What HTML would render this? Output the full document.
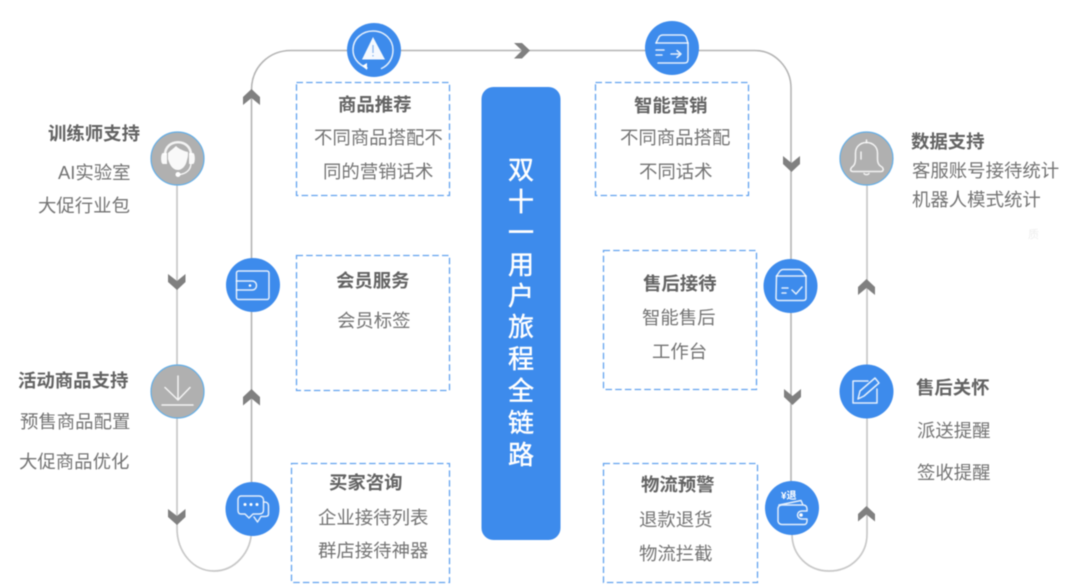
<!DOCTYPE html>
<html lang="zh">
<head>
<meta charset="utf-8">
<style>
html,body{margin:0;padding:0;background:#fff;width:1080px;height:588px;overflow:hidden}
svg{display:block;filter:blur(.45px)}
text{font-family:"Liberation Sans","Noto Sans CJK SC",sans-serif;font-size:18.4px;fill:#747474}
.t{font-weight:700;fill:#636363}
.c{font-size:26px;fill:#fff;text-anchor:middle;stroke:#fff;stroke-width:.45}
.line{fill:none;stroke:#c8c8c8;stroke-width:1.7}
.dark{fill:none;stroke:#b4b4b4;stroke-width:1.6}
.box{fill:#fff;stroke:#62a2ef;stroke-width:1.3;stroke-dasharray:6.500 3.200}
.blue{fill:#3d8bec}
.gray{fill:#b0b0b0;stroke:#62aee8;stroke-width:1.2}
.ic{fill:none;stroke:#fff;stroke-width:1.5;stroke-linecap:round;stroke-linejoin:round;opacity:.85}
.ar{fill:#808080}
</style>
</head>
<body>
<svg width="1080" height="588" viewBox="0 0 1080 588" xmlns="http://www.w3.org/2000/svg">
<!-- connectors -->
<path class="line" d="M177 185V528C177 552 193 571 214 571C235 571 251.500 552 251.500 530"/>
<path class="dark" d="M251.500 482V90C251.500 67 269 50.500 291 50.500H755C775 50.500 791 68 791 88V260"/>
<path class="dark" d="M791 312V482"/>
<path class="line" d="M792 534C792 555 808 571 829 571C851 571 867 555 867 534V185"/>

<!-- chevrons -->
<polygon class="ar" points="168,274 177,281 185.500,274 185.500,282 177,290 168,282"/>
<polygon class="ar" points="168,509 177,516 185.500,509 185.500,517 177,525 168,517"/>
<polygon class="ar" points="243,105 251.500,98 260,105 260,97 251.500,89 243,97"/>
<polygon class="ar" points="243,405.500 251.500,398.500 260,405.500 260,397 251.500,389 243,397"/>
<polygon class="ar" points="514,43 522,50.500 514,58.500 522,58.500 530,50.500 522,43"/>
<polygon class="ar" points="783,156 791.500,163 800,156 800,164 791.500,172 783,164"/>
<polygon class="ar" points="784,389 792.500,396 801,389 801,397 792.500,405 784,397"/>
<polygon class="ar" points="858,295 866.500,288 875,295 875,287 866.500,279 858,287"/>
<polygon class="ar" points="858,521.500 866.500,514.500 875,521.500 875,514 866.500,506 858,514"/>

<!-- dashed boxes -->
<rect class="box" x="296.500" y="82.500" width="153" height="113"/>
<rect class="box" x="296.500" y="255.500" width="153" height="135"/>
<rect class="box" x="291.500" y="463.500" width="158" height="119"/>
<rect class="box" x="595.500" y="82.500" width="153" height="113"/>
<rect class="box" x="603.500" y="250.500" width="153" height="139"/>
<rect class="box" x="603.500" y="463.500" width="154" height="119"/>

<!-- centre bar -->
<rect class="blue" x="481.500" y="87" width="79" height="453" rx="12"/>
<text class="c" x="521" y="179">双</text>
<text class="c" x="521" y="211">十</text>
<text class="c" x="521" y="242">一</text>
<text class="c" x="521" y="274">用</text>
<text class="c" x="521" y="305">户</text>
<text class="c" x="521" y="336">旅</text>
<text class="c" x="521" y="368">程</text>
<text class="c" x="521" y="400">全</text>
<text class="c" x="521" y="432">链</text>
<text class="c" x="521" y="464">路</text>

<!-- headset -->
<circle class="gray" cx="177.500" cy="158.500" r="26.500"/>
<path d="M165 155C165 138 191 138 191 155" fill="none" stroke="#fff" stroke-width="2.600" opacity=".85"/>
<path d="M191 163C191 170 186 173.500 180 174.500" fill="none" stroke="#fff" stroke-width="1.500" opacity=".85"/>
<path fill="#fff" opacity=".92" d="M163 153h4v11h-4c-2.500 0-2.500-11 0-11zM189 153h4c2.500 0 2.500 11 0 11h-4zM168 153c3-3 6-5 8-7 3 3 8 5 12 6 0 4 0 5-1 8-1 6-5 10-9 10-6 0-9-7-10-11z"/>
<circle cx="178" cy="174.500" r="2.500" fill="#fff"/>

<!-- download -->
<circle class="gray" cx="177.500" cy="391.500" r="26.500"/>
<path class="ic" d="M178 376V400M165 387.500L178 400L190 387.500"/>
<path class="ic" d="M162 405H193" stroke-width="2"/>

<!-- wallet blue -->
<circle class="blue" cx="253" cy="285" r="27"/>
<rect class="ic" x="236.500" y="271" width="32.500" height="28.500" rx="2"/>
<path class="ic" d="M236.500 281H252C258 281 258 290 252 290H236.500"/>
<circle cx="250" cy="285.500" r="1.300" fill="#fff"/>

<!-- chat -->
<circle class="blue" cx="252.500" cy="509" r="27"/>
<path class="ic" d="M241 496H259C262 496 263.500 498 263.500 500V510C263.500 513 262 514 259 514H253L249 518L245 514H241C239 514 238 513 238 510V500C238 498 239 496 241 496Z"/>
<path class="ic" d="M264 502C267 502 268.500 503 268.500 506V514C268.500 516 267 516.500 265 516.500H261L257.500 522L254 517"/>
<circle cx="245" cy="504.500" r="1.500" fill="#fff"/><circle cx="251" cy="504.500" r="1.500" fill="#fff"/><circle cx="257" cy="504.500" r="1.500" fill="#fff"/>

<!-- warning -->
<circle class="blue" cx="374" cy="50" r="27"/>
<path class="ic" d="M367 68C357 64 353 57 353 50C353 38 363 31 373 31C385 31 393 40 393 50C393 58 389 65 381.500 68.500"/>
<polygon points="362,66 367,63 367,70" fill="#fff"/>
<polygon points="373,37 362,59.500 385,59.500" fill="#fff" opacity=".95"/>
<path d="M373 45V53M373 55V56.500" stroke="#8fb9ee" stroke-width="1.300" fill="none"/>

<!-- box arrow -->
<circle class="blue" cx="672" cy="48" r="27"/>
<path class="ic" d="M656 43L659 37C660 35.500 661 35 663 35H682C684 35 685 35.500 686 37L688 43V59C688 62 687 63 684 63H658"/>
<path class="ic" d="M656 43H688M656 50H664M656 55H662M671 54H680M677 50.500L681 54L677 57.500"/>

<!-- check box -->
<circle class="blue" cx="790.500" cy="286" r="27"/>
<path class="ic" d="M776.500 276L780 271C781 270 782 269.500 783 269.500H799C800 269.500 801 270 802 271L806 276V298C806 299.500 805 300.500 803 300.500H779C777 300.500 776 299.500 776 298Z"/>
<path class="ic" d="M776.500 276H806M782 288H788M782 293H786M792 290L796 294L802 287"/>

<!-- refund wallet -->
<circle class="blue" cx="792" cy="508" r="27"/>
<text x="781" y="499" style="font-size:10px;fill:#fff;font-weight:700">¥退</text>
<path class="ic" d="M779 505L801 500.500L803 505M778 509C778 506 780 505 782 505H803C806 505 807 507 807 509V511H802C796 511 796 519 802 519H807V521C807 523 806 524.500 804 524.500H782C780 524.500 778 523 778 521Z"/>
<circle cx="801" cy="515" r="1.800" fill="#fff"/>

<!-- bell -->
<circle class="gray" cx="866.500" cy="158.500" r="26.500"/>
<path class="ic" d="M852 167C855 165 855.500 162 855.500 158V153C855.500 147 860 142.500 866.500 142.500C873 142.500 877.500 147 877.500 153V158C877.500 162 878 165 882 167C884 169 883.500 171.500 881 171.500H853C850 171.500 850 169 852 167Z"/>
<path class="ic" d="M866.500 142.500V140M864 173.500C865 175 868 175 869 173.500M861 152V159"/>

<!-- pencil -->
<circle class="blue" cx="866.500" cy="391.500" r="27"/>
<path class="ic" d="M868 381H853V403H877V389"/>
<path class="ic" d="M858 399L860 391L875 378L879 383L864 396L858 399Z"/>

<!-- labels left -->
<text class="t" x="48" y="140">训练师支持</text>
<text x="58" y="179">AI实验室</text>
<text x="38" y="212">大促行业包</text>
<text class="t" x="18" y="387">活动商品支持</text>
<text x="20" y="428">预售商品配置</text>
<text x="19" y="468">大促商品优化</text>

<text class="t" x="338" y="111">商品推荐</text>
<text x="314" y="144">不同商品搭配不</text>
<text x="323" y="178">同的营销话术</text>
<text class="t" x="336" y="287">会员服务</text>
<text x="337" y="327">会员标签</text>
<text class="t" x="329" y="489">买家咨询</text>
<text x="318" y="524">企业接待列表</text>
<text x="318" y="557">群店接待神器</text>

<text class="t" x="634" y="112">智能营销</text>
<text x="620" y="144">不同商品搭配</text>
<text x="639" y="178">不同话术</text>
<text class="t" x="643" y="290">售后接待</text>
<text x="642" y="324">智能售后</text>
<text x="652" y="358">工作台</text>
<text class="t" x="641" y="491">物流预警</text>
<text x="639" y="526">退款退货</text>
<text x="639" y="560">物流拦截</text>

<text class="t" x="911" y="148">数据支持</text>
<text x="912" y="177">客服账号接待统计</text>
<text x="912" y="206">机器人模式统计</text>
<text x="1028" y="238" style="font-size:11px;fill:#eee">质</text>
<text class="t" x="916" y="394">售后关怀</text>
<text x="917" y="437">派送提醒</text>
<text x="917" y="479">签收提醒</text>
</svg>
</body>
</html>
